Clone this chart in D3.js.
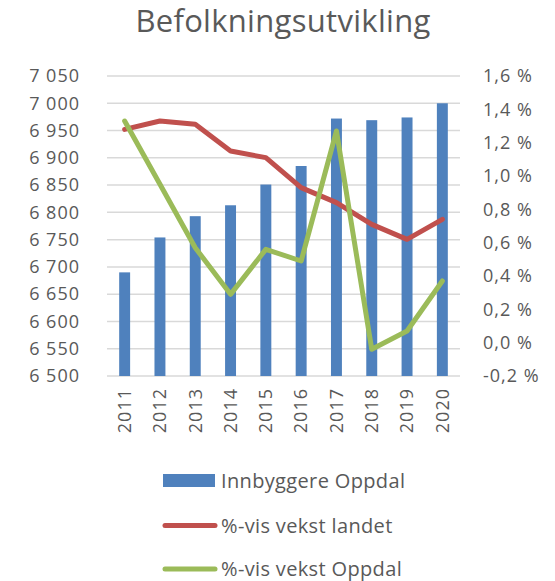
<!DOCTYPE html>
<html><head><meta charset="utf-8">
<script src="https://cdn.jsdelivr.net/npm/d3@7"></script>
<style>body{margin:0;background:#fff}text{font-family:"Open Sans",sans-serif;fill:#595959}</style>
</head><body>
<svg id="c" width="555" height="581"></svg>
<script>
const years = ["2011","2012","2013","2014","2015","2016","2017","2018","2019","2020"];
const innbyggere = [6690, 6754, 6793, 6813, 6851, 6885, 6972, 6969, 6974, 7000];
const vekstLandet = [1.28, 1.33, 1.31, 1.15, 1.11, 0.93, 0.84, 0.71, 0.62, 0.74];
const vekstOppdal = [1.33, 0.95, 0.57, 0.29, 0.56, 0.49, 1.27, -0.04, 0.07, 0.37];
const leftTicks = [6500,6550,6600,6650,6700,6750,6800,6850,6900,6950,7000,7050];
const rightTicks = [-0.2,0,0.2,0.4,0.6,0.8,1.0,1.2,1.4,1.6];
const seriesNames = ["Innbyggere Oppdal","%-vis vekst landet","%-vis vekst Oppdal"];
const colors = {bar:"#4F81BD", red:"#C0504D", green:"#9BBB59", grid:"#D9D9D9"};

const svg = d3.select("#c");
const L=107, R=460, T=76, B=376;
const x = d3.scaleBand().domain(years).range([L,R]).padding(0);
const yL = d3.scaleLinear().domain([6500,7050]).range([B,T]);
const yR = d3.scaleLinear().domain([-0.2,1.6]).range([B,T]);
const fmtL = d => d3.format(",")(d).replace(/,/g," ");
const fmtR = d => d.toFixed(1).replace(".",",") + " %";
const axisFont = sel => sel.style("font-size","18px").style("letter-spacing","1px")
  .attr("fill","#595959").style("font-family","'Open Sans',sans-serif");

svg.append("text").attr("x",283).attr("y",32).attr("text-anchor","middle")
  .style("font-size","31px").style("letter-spacing","0.3px").text("Befolkningsutvikling");

// gridlines
svg.append("g").selectAll("line").data(leftTicks).join("line")
  .attr("x1",L).attr("x2",R).attr("y1",d=>yL(d)).attr("y2",d=>yL(d))
  .attr("stroke",colors.grid).attr("stroke-width",1.5);

// left axis
const gl = svg.append("g").attr("transform",`translate(${L},0)`)
  .call(d3.axisLeft(yL).tickValues(leftTicks).tickFormat(fmtL).tickSize(0).tickPadding(27));
gl.select(".domain").remove();
gl.selectAll("text").call(axisFont);

// right axis
const gr = svg.append("g").attr("transform",`translate(${R},0)`)
  .call(d3.axisRight(yR).tickValues(rightTicks).tickFormat(fmtR).tickSize(0).tickPadding(23));
gr.select(".domain").remove();
gr.selectAll("text").call(axisFont);

// x axis labels
const gx = svg.append("g").attr("transform",`translate(0,${B})`)
  .call(d3.axisBottom(x).tickSize(0).tickPadding(0));
gx.select(".domain").remove();
gx.selectAll("text").attr("transform","rotate(-90)").attr("text-anchor","end")
  .attr("x",-12).attr("y",0).attr("dy","0.35em").call(axisFont);

// bars
const bw = x.bandwidth()*0.31;
svg.append("g").selectAll("rect").data(innbyggere).join("rect")
  .attr("x",(d,i)=>x(years[i])+x.bandwidth()/2-bw/2).attr("width",bw)
  .attr("y",d=>yL(d)).attr("height",d=>B-yL(d)).attr("fill",colors.bar);

const line = d3.line().x((d,i)=>x(years[i])+x.bandwidth()/2).y(d=>yR(d));
svg.append("path").datum(vekstLandet).attr("d",line).attr("fill","none")
  .attr("stroke",colors.red).attr("stroke-width",5).attr("stroke-linejoin","round").attr("stroke-linecap","round");
svg.append("path").datum(vekstOppdal).attr("d",line).attr("fill","none")
  .attr("stroke",colors.green).attr("stroke-width",5).attr("stroke-linejoin","round").attr("stroke-linecap","round");

// legend
const lg = svg.append("g");
lg.append("rect").attr("x",163).attr("y",474).attr("width",52).attr("height",13).attr("fill",colors.bar);
lg.append("line").attr("x1",165).attr("x2",215).attr("y1",525.5).attr("y2",525.5)
  .attr("stroke",colors.red).attr("stroke-width",5).attr("stroke-linecap","round");
lg.append("line").attr("x1",165).attr("x2",215).attr("y1",569).attr("y2",569)
  .attr("stroke",colors.green).attr("stroke-width",5).attr("stroke-linecap","round");
[481,525.5,569].forEach((yy,i)=>{
  lg.append("text").attr("x",221).attr("y",yy).attr("dy","0.35em")
    .style("font-size","20px").style("letter-spacing","0.35px").text(seriesNames[i]);
});
</script>
</body></html>
